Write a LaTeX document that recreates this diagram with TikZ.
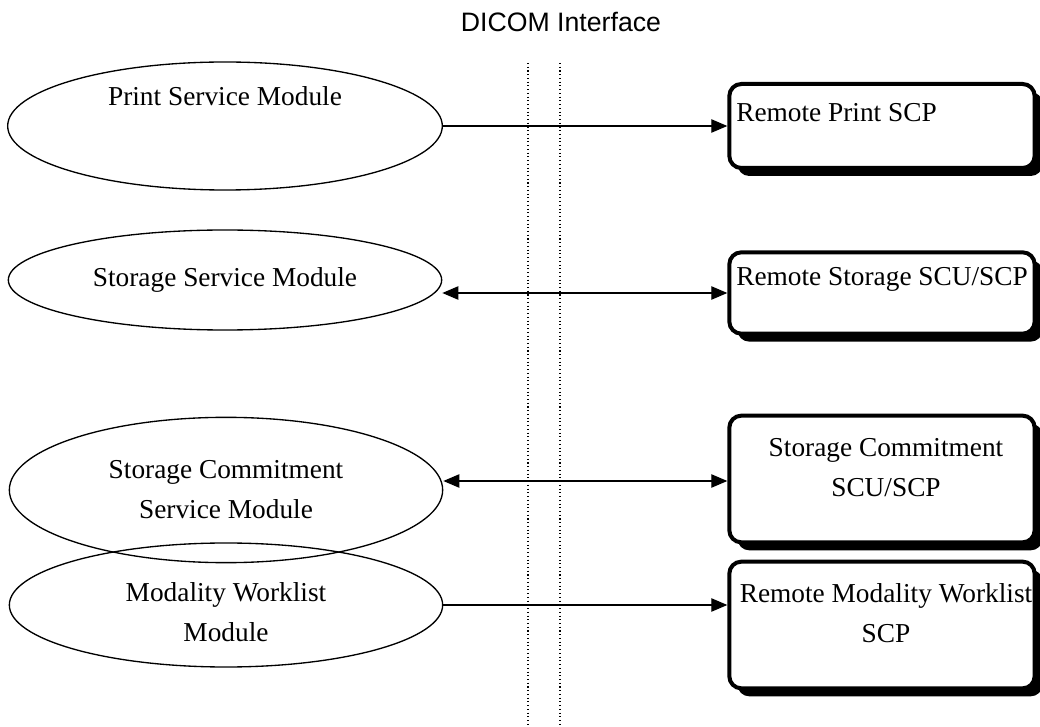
\documentclass[tikz,border=0pt]{standalone}
\usepackage{fontspec}
\setmainfont{Liberation Serif}
\newfontfamily\arialfont{Liberation Sans}
\usetikzlibrary{arrows.meta,shadows,shapes.geometric}
\begin{document}
\begin{tikzpicture}[x=0.75pt,y=-0.75pt,
  modell/.style={draw,line width=1pt,ellipse,inner sep=0pt},
  remotebox/.style={draw,line width=3pt,rounded corners=9pt,fill=white,
    drop shadow={shadow xshift=6pt,shadow yshift=-6pt,fill=black,opacity=1}},
  txt/.style={font=\fontsize{20.5}{30}\selectfont,align=center,inner sep=0pt},
  tip/.style={-{Triangle[length=12pt,width=10pt]}},
  dtip/.style={{Triangle[length=12pt,width=10pt]}-{Triangle[length=12pt,width=10pt]}},
  vline/.style={line width=0.8pt,dotted}]
\useasboundingbox (0,0) rectangle (1040,727);
% title
\node[font=\arialfont\fontsize{20}{24}\selectfont,inner sep=0pt] (title) at (561,22) {DICOM Interface};
% interface lines
\coordinate (l1t) at (528,63); \coordinate (l1b) at (528,727);
\coordinate (l2t) at (560,63); \coordinate (l2b) at (560,727);
\draw[vline] (l1t) -- (l1b);
\draw[vline] (l2t) -- (l2b);
% ellipses
\node[modell,minimum width=326pt,minimum height=96pt] (e1) at (225,126) {};
\node[modell,minimum width=325pt,minimum height=75pt] (e2) at (225,280) {};
\node[modell,minimum width=325pt,minimum height=109pt] (e3) at (226,490) {};
\node[modell,minimum width=325pt,minimum height=93pt] (e4) at (226,605) {};
\node[txt] (t1) at (225,96) {Print Service Module};
\node[txt] (t2) at (225,280) {Storage Service Module};
\node[txt] (t3) at (226,490) {Storage Commitment\\Service Module};
\node[txt] (t4) at (226,612) {Modality Worklist\\Module};
% boxes
\node[remotebox,minimum width=229pt,minimum height=63pt] (b1) at (882,126) {};
\node[remotebox,minimum width=229pt,minimum height=61pt] (b2) at (882,293) {};
\node[remotebox,minimum width=229pt,minimum height=95pt] (b3) at (882,479) {};
\node[remotebox,minimum width=229pt,minimum height=95pt] (b4) at (882,625) {};
\node[txt,anchor=west] (r1) at (736,113) {Remote Print SCP};
\node[txt,anchor=west] (r2) at (736,279) {Remote Storage SCU/SCP};
\node[txt] (r3) at (886,468) {Storage Commitment\\SCU/SCP};
\node[txt] (r4) at (886,613) {Remote Modality Worklist\\SCP};
% connectors
\draw[tip,line width=0.9pt] (e1.east) -- (e1.east -| b1.west);
\draw[dtip,line width=0.9pt] ([yshift=-9.75pt]e2.east) -- ([yshift=-9.75pt]e2.east -| b2.west);
\draw[dtip,line width=0.9pt] ([yshift=6.75pt]e3.east) -- ([yshift=6.75pt]e3.east -| b3.west);
\draw[tip,line width=0.9pt] (e4.east) -- (e4.east -| b4.west);
\end{tikzpicture}
\end{document}
